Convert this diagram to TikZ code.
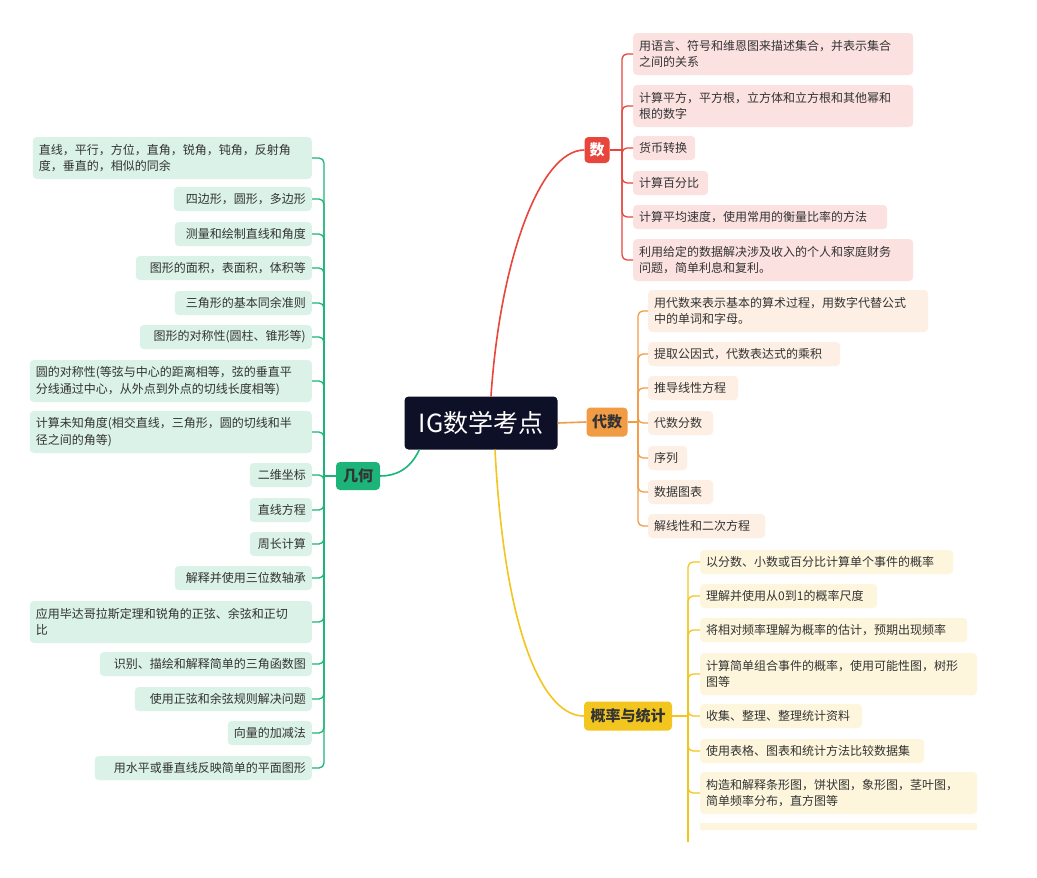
\documentclass[tikz,border=0pt]{standalone}
\usepackage{fontspec}
\setmainfont{Noto Sans CJK SC}
\definecolor{cred}{HTML}{E8453C}\definecolor{lred}{HTML}{FCE1E1}
\definecolor{corg}{HTML}{F29B45}\definecolor{lorg}{HTML}{FDEFE3}
\definecolor{cyel}{HTML}{F2C61F}\definecolor{lyel}{HTML}{FDF6DC}
\definecolor{cgrn}{HTML}{1DB47A}\definecolor{lgrn}{HTML}{DAF2E7}
\definecolor{ctxt}{HTML}{333333}\definecolor{cdark}{HTML}{0E1027}
\begin{document}
\begin{tikzpicture}[x=1pt,y=-1pt,
  leaf/.style={rounded corners=4pt,inner xsep=6pt,inner ysep=2pt,font=\fontsize{12}{16.5}\selectfont,text=ctxt},
  rl/.style={leaf,fill=lred,anchor=west,align=left},
  ol/.style={leaf,fill=lorg,anchor=west,align=left},
  yl/.style={leaf,fill=lyel,anchor=west,align=left},
  gl/.style={leaf,fill=lgrn,anchor=east,align=right},
  gll/.style={leaf,fill=lgrn,anchor=east,align=left},
  br/.style={rounded corners=5pt,line width=1.3pt},
  topic/.style={rounded corners=4pt,font=\fontsize{15}{18}\selectfont\bfseries,inner sep=3pt}]
\useasboundingbox (0,0) rectangle (1037,878);
\fill[white] (0,0) rectangle (1037,878);
% center
\node[fill=cdark,text=white,rounded corners=4pt,minimum width=153pt,minimum height=53pt,font=\fontsize{25}{28}\selectfont] (c) at (481,423) {IG数学考点};
% topics
\node[topic,fill=cred,text=white,minimum width=25pt,minimum height=26pt] (s) at (597,150) {数};
\node[topic,fill=corg,text=ctxt,minimum width=41pt,minimum height=29pt] (d) at (607,422) {代数};
\node[topic,fill=cyel,text=ctxt,minimum width=88pt,minimum height=29pt] (p) at (628,716) {概率与统计};
\node[topic,fill=cgrn,text=ctxt,minimum width=44pt,minimum height=28pt] (g) at (358,476) {几何};
% main connectors
\draw[cred,line width=1.6pt] (c.north)++(10,0) coordinate (c1) .. controls (500,260) and (540,150) .. (s.west);
\draw[corg,line width=1.6pt] (c.east) -- (d.west);
\draw[cyel,line width=1.6pt] (c.south)++(14,0) coordinate (c2) .. controls (505,640) and (545,716) .. (p.west);
\draw[cgrn,line width=1.6pt] (c.south west)++(15,0) coordinate (c3) .. controls (410,470) and (395,476) .. (g.east);
% 数 leaves
\node[rl,text width=268pt,minimum height=42pt] (s1) at (633,54) {用语言、符号和维恩图来描述集合，并表示集合\\之间的关系};
\node[rl,text width=268pt,minimum height=42pt] (s2) at (633,106) {计算平方，平方根，立方体和立方根和其他幂和\\根的数字};
\node[rl,text width=50pt,minimum height=24pt] (s3) at (633,148) {货币转换};
\node[rl,text width=63pt,minimum height=24pt] (s4) at (633,183) {计算百分比};
\node[rl,text width=242pt,minimum height=24pt] (s5) at (633,217) {计算平均速度，使用常用的衡量比率的方法};
\node[rl,text width=268pt,minimum height=42pt] (s6) at (633,260) {利用给定的数据解决涉及收入的个人和家庭财务\\问题，简单利息和复利。};
\coordinate (sb) at (622,150);
\draw[cred,br] (s.east) -- (sb);
\foreach \i in {1,...,6} \draw[cred,br] (sb) |- (s\i.west);
% 代数 leaves
\node[ol,text width=268pt,minimum height=42pt] (d1) at (648,311) {用代数来表示基本的算术过程，用数字代替公式\\中的单词和字母。};
\node[ol,text width=180pt,minimum height=24pt] (d2) at (648,354) {提取公因式，代数表达式的乘积};
\node[ol,text width=78pt,minimum height=24pt] (d3) at (648,388) {推导线性方程};
\node[ol,text width=53pt,minimum height=24pt] (d4) at (648,423) {代数分数};
\node[ol,text width=27pt,minimum height=24pt] (d5) at (648,458) {序列};
\node[ol,text width=53pt,minimum height=24pt] (d6) at (648,492) {数据图表};
\node[ol,text width=105pt,minimum height=24pt] (d7) at (648,526) {解线性和二次方程};
\coordinate (db) at (638,422);
\draw[corg,br] (d.east) -- (db);
\foreach \i in {1,...,7} \draw[corg,br] (db) |- (d\i.west);
% 概率 leaves
\node[yl,text width=241pt,minimum height=24pt] (p1) at (700,562) {以分数、小数或百分比计算单个事件的概率};
\node[yl,text width=165pt,minimum height=24pt] (p2) at (700,596) {理解并使用从0到1的概率尺度};
\node[yl,text width=255pt,minimum height=24pt] (p3) at (700,630) {将相对频率理解为概率的估计，预期出现频率};
\node[yl,text width=265pt,minimum height=42pt] (p4) at (700,674) {计算简单组合事件的概率，使用可能性图，树形\\图等};
\node[yl,text width=150pt,minimum height=24pt] (p5) at (700,716) {收集、整理、整理统计资料};
\node[yl,text width=212pt,minimum height=24pt] (p6) at (700,751) {使用表格、图表和统计方法比较数据集};
\node[yl,text width=265pt,minimum height=42pt] (p7) at (700,793) {构造和解释条形图，饼状图，象形图，茎叶图，\\简单频率分布，直方图等};
\fill[lyel] (700,823) rectangle (977,830);
\coordinate (p8) at (700,826);
\coordinate (pb) at (688,716);
\coordinate (pe) at (688,842);
\draw[cyel,br] (p.east) -- (pb);
\foreach \i in {1,...,7} \draw[cyel,br] (pb) |- (p\i.west);
\draw[cyel,line width=1.3pt] (pb) -- (pe);
% 几何 leaves
\node[gll,text width=267pt,minimum height=42pt] (g1) at (312,158) {直线，平行，方位，直角，锐角，钝角，反射角\\度，垂直的，相似的同余};
\node[gl,text width=126pt,minimum height=24pt] (g2) at (312,199) {四边形，圆形，多边形};
\node[gl,text width=125pt,minimum height=24pt] (g3) at (312,234) {测量和绘制直线和角度};
\node[gl,text width=164pt,minimum height=24pt] (g4) at (312,268) {图形的面积，表面积，体积等};
\node[gl,text width=125pt,minimum height=24pt] (g5) at (312,303) {三角形的基本同余准则};
\node[gl,text width=160pt,minimum height=24pt] (g6) at (312,337) {图形的对称性(圆柱、锥形等)};
\node[gll,text width=270pt,minimum height=42pt] (g7) at (312,381) {圆的对称性(等弦与中心的距离相等，弦的垂直平\\分线通过中心，从外点到外点的切线长度相等)};
\node[gll,text width=270pt,minimum height=42pt] (g8) at (312,432) {计算未知角度(相交直线，三角形，圆的切线和半\\径之间的角等)};
\node[gl,text width=50pt,minimum height=24pt] (g9) at (312,475) {二维坐标};
\node[gl,text width=50pt,minimum height=24pt] (g10) at (312,510) {直线方程};
\node[gl,text width=50pt,minimum height=24pt] (g11) at (312,544) {周长计算};
\node[gl,text width=125pt,minimum height=24pt] (g12) at (312,578) {解释并使用三位数轴承};
\node[gll,text width=270pt,minimum height=42pt] (g13) at (312,622) {应用毕达哥拉斯定理和锐角的正弦、余弦和正切\\比};
\node[gl,text width=200pt,minimum height=24pt] (g14) at (312,664) {识别、描绘和解释简单的三角函数图};
\node[gl,text width=165pt,minimum height=24pt] (g15) at (312,699) {使用正弦和余弦规则解决问题};
\node[gl,text width=72pt,minimum height=24pt] (g16) at (312,733) {向量的加减法};
\node[gl,text width=205pt,minimum height=24pt] (g17) at (312,768) {用水平或垂直线反映简单的平面图形};
\coordinate (gb) at (324,476);
\draw[cgrn,br] (g.west) -- (gb);
\foreach \i in {1,...,17} \draw[cgrn,br] (gb) |- (g\i.east);
\end{tikzpicture}
\end{document}
